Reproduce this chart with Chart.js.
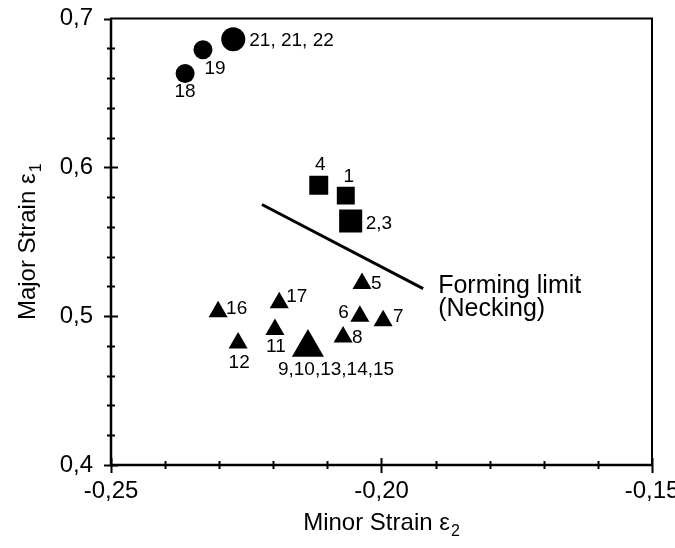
<!DOCTYPE html>
<html>
<head>
<meta charset="utf-8">
<script src="https://cdn.jsdelivr.net/npm/chart.js@4.4.1/dist/chart.umd.min.js"></script>
<style>
  body { margin: 0; background: #fff; }
  #wrap { width: 675px; height: 548px; position: relative; }
</style>
</head>
<body>
<div id="wrap"><canvas id="strainChart"></canvas></div>
<script>
// specimens that fractured (circles)
const circleX = [-0.2363, -0.2330, -0.2274];
const circleY = [0.663, 0.679, 0.686];
const circleLabels = ['18', '19', '21, 21, 22'];

// specimens at necking (squares)
const squareX = [-0.2066, -0.2057, -0.2116];
const squareY = [0.581, 0.564, 0.588];
const squareLabels = ['1', '2,3', '4'];

// safe specimens (triangles)
const triX = [-0.2036, -0.2040, -0.1997, -0.2071, -0.2136, -0.2197, -0.2265, -0.2302, -0.2189];
const triY = [0.522, 0.500, 0.497, 0.486, 0.479, 0.491, 0.482, 0.503, 0.509];
const triLabels = ['5', '6', '7', '8', '9,10,13,14,15', '11', '12', '16', '17'];

// forming limit line
const limitX = [-0.2221, -0.1923];
const limitY = [0.575, 0.5185];
const limitText = ['Forming limit', '(Necking)'];

const yTicks = [0.4, 0.5, 0.6, 0.7];
const xTicks = [-0.25, -0.20, -0.15];

// marker sizes and label offsets (style only)
const circleSize = [9.5, 9.5, 12];
const squareSize = [12.7, 16.3, 13.4];
const triSize = [11, 11, 11, 11, 18.5, 11, 11, 11, 11];
const circleOff = [[0, 18, 'center'], [12, 19, 'center'], [16, 1, 'left']];
const squareOff = [[3, -19, 'center'], [15, 3, 'left'], [1.5, -20, 'center']];
const triOff = [[9, 0, 'left'], [-11, -3, 'right'], [10, -4, 'left'], [9, 1, 'left'],
                [-30, 22, 'left'], [1, 17, 'center'], [1, 20, 'center'], [8, -3, 'left'], [7, -6, 'left']];

const FONT = "'Liberation Sans', Arial, sans-serif";

function pts(xs, ys) {
    return xs.map((x, i) => ({ x: x, y: ys[i] }));
}

const framePlugin = {
    id: 'frame',
    beforeDatasetsDraw(chart) {
        const ctx = chart.ctx;
        const a = chart.chartArea;
        const xs = chart.scales.x, ys = chart.scales.y;
        ctx.save();
        ctx.strokeStyle = '#000';
        ctx.lineWidth = 2;
        ctx.strokeRect(a.left, a.top, a.right - a.left, a.bottom - a.top);
        ctx.lineWidth = 2.5;
        ctx.beginPath();
        ctx.moveTo(a.left, a.top);
        ctx.lineTo(a.left, a.bottom);
        ctx.lineTo(a.right, a.bottom);
        ctx.stroke();
        ctx.lineWidth = 2;
        // y ticks every 0.02, major every 0.1
        for (let k = 0; k <= 15; k++) {
            const v = 0.4 + k * 0.02;
            const py = Math.round(ys.getPixelForValue(v)) + 0.5;
            const len = (k % 5 === 0) ? 7 : 4;
            ctx.beginPath();
            ctx.moveTo(a.left - len, py);
            ctx.lineTo(k === 15 ? a.left : a.left + len, py);
            ctx.stroke();
        }
        // x ticks every 0.01, major every 0.05
        for (let k = 0; k <= 10; k++) {
            const v = -0.25 + k * 0.01;
            const px = Math.round(xs.getPixelForValue(v)) + 0.5;
            const major = k % 5 === 0;
            ctx.beginPath();
            if (major) {
                ctx.moveTo(px, a.bottom - 7);
                ctx.lineTo(px, a.bottom + 8);
            } else {
                ctx.moveTo(px, a.bottom - 4);
                ctx.lineTo(px, a.bottom + 4);
            }
            ctx.stroke();
        }
        ctx.restore();
    },
    afterDraw(chart) {
        const ctx = chart.ctx;
        const a = chart.chartArea;
        ctx.save();
        ctx.fillStyle = '#000';

        // point labels
        ctx.font = '19px ' + FONT;
        ctx.textBaseline = 'middle';
        const groups = [[0, circleLabels, circleOff], [1, squareLabels, squareOff], [2, triLabels, triOff]];
        groups.forEach(([di, labels, offs]) => {
            const meta = chart.getDatasetMeta(di);
            meta.data.forEach((el, i) => {
                const o = offs[i];
                ctx.textAlign = o[2];
                ctx.fillText(labels[i], el.x + o[0], el.y + o[1]);
            });
        });

        // forming limit annotation
        const lm = chart.getDatasetMeta(3).data[1];
        ctx.font = '25px ' + FONT;
        ctx.textAlign = 'left';
        ctx.textBaseline = 'alphabetic';
        ctx.fillText(limitText[0], lm.x + 15, lm.y + 4);
        ctx.fillText(limitText[1], lm.x + 15, lm.y + 27);

        // axis titles with subscripts
        function titleWidth(main, sub) {
            ctx.font = '24px ' + FONT;
            const w1 = ctx.measureText(main).width;
            ctx.font = '16px ' + FONT;
            return w1 + ctx.measureText(sub).width + 1;
        }
        function drawTitle(main, sub, cx, baseline) {
            const w = titleWidth(main, sub);
            let x = cx - w / 2;
            ctx.font = '24px ' + FONT;
            ctx.textAlign = 'left';
            ctx.fillText(main, x, baseline);
            x += ctx.measureText(main).width + 1;
            ctx.font = '16px ' + FONT;
            ctx.fillText(sub, x, baseline + 6);
        }
        ctx.textBaseline = 'alphabetic';
        drawTitle('Minor Strain \u03b5', '2', (a.left + a.right) / 2, 530);

        ctx.translate(35, (a.top + a.bottom) / 2);
        ctx.rotate(-Math.PI / 2);
        drawTitle('Major Strain \u03b5', '1', 0, 0);
        ctx.restore();
    }
};

const ctx = document.getElementById('strainChart').getContext('2d');

const strainChart = new Chart(ctx, {
    type: 'scatter',
    data: {
        datasets: [
            {
                data: pts(circleX, circleY),
                pointStyle: 'circle',
                pointRadius: circleSize,
                backgroundColor: '#000',
                borderWidth: 0
            },
            {
                data: pts(squareX, squareY),
                pointStyle: 'rect',
                pointRadius: squareSize,
                backgroundColor: '#000',
                borderWidth: 0
            },
            {
                data: pts(triX, triY),
                pointStyle: 'triangle',
                pointRadius: triSize,
                backgroundColor: '#000',
                borderWidth: 0
            },
            {
                type: 'line',
                data: pts(limitX, limitY),
                showLine: true,
                borderColor: '#000',
                borderWidth: 3,
                pointRadius: 0,
                fill: false
            }
        ]
    },
    options: {
        responsive: true,
        maintainAspectRatio: false,
        animation: false,
        events: [],
        layout: { padding: { top: 15, right: 23, left: 0, bottom: 0 } },
        plugins: {
            legend: { display: false },
            tooltip: { enabled: false }
        },
        scales: {
            x: {
                type: 'linear',
                min: -0.25,
                max: -0.15,
                afterBuildTicks: s => { s.ticks = xTicks.map(v => ({ value: v })); },
                grid: { display: false, drawTicks: false, tickLength: 0 },
                border: { display: false },
                ticks: {
                    padding: 12,
                    maxRotation: 0,
                    autoSkip: false,
                    color: '#000',
                    font: { family: FONT, size: 24 },
                    callback: v => v.toFixed(2).replace('.', ',')
                },
                afterFit: s => {
                    s.height = 83;
                    s.paddingLeft = 0;
                    s.paddingRight = 0;
                }
            },
            y: {
                type: 'linear',
                min: 0.4,
                max: 0.7,
                afterBuildTicks: s => { s.ticks = yTicks.map(v => ({ value: v })); },
                grid: { display: false, drawTicks: false, tickLength: 0 },
                border: { display: false },
                ticks: {
                    padding: 18,
                    autoSkip: false,
                    color: '#000',
                    font: { family: FONT, size: 24 },
                    callback: v => v.toFixed(1).replace('.', ',')
                },
                afterFit: s => {
                    s.width = 111;
                    s.paddingTop = 0;
                    s.paddingBottom = 0;
                }
            }
        }
    },
    plugins: [framePlugin]
});
</script>
</body>
</html>
